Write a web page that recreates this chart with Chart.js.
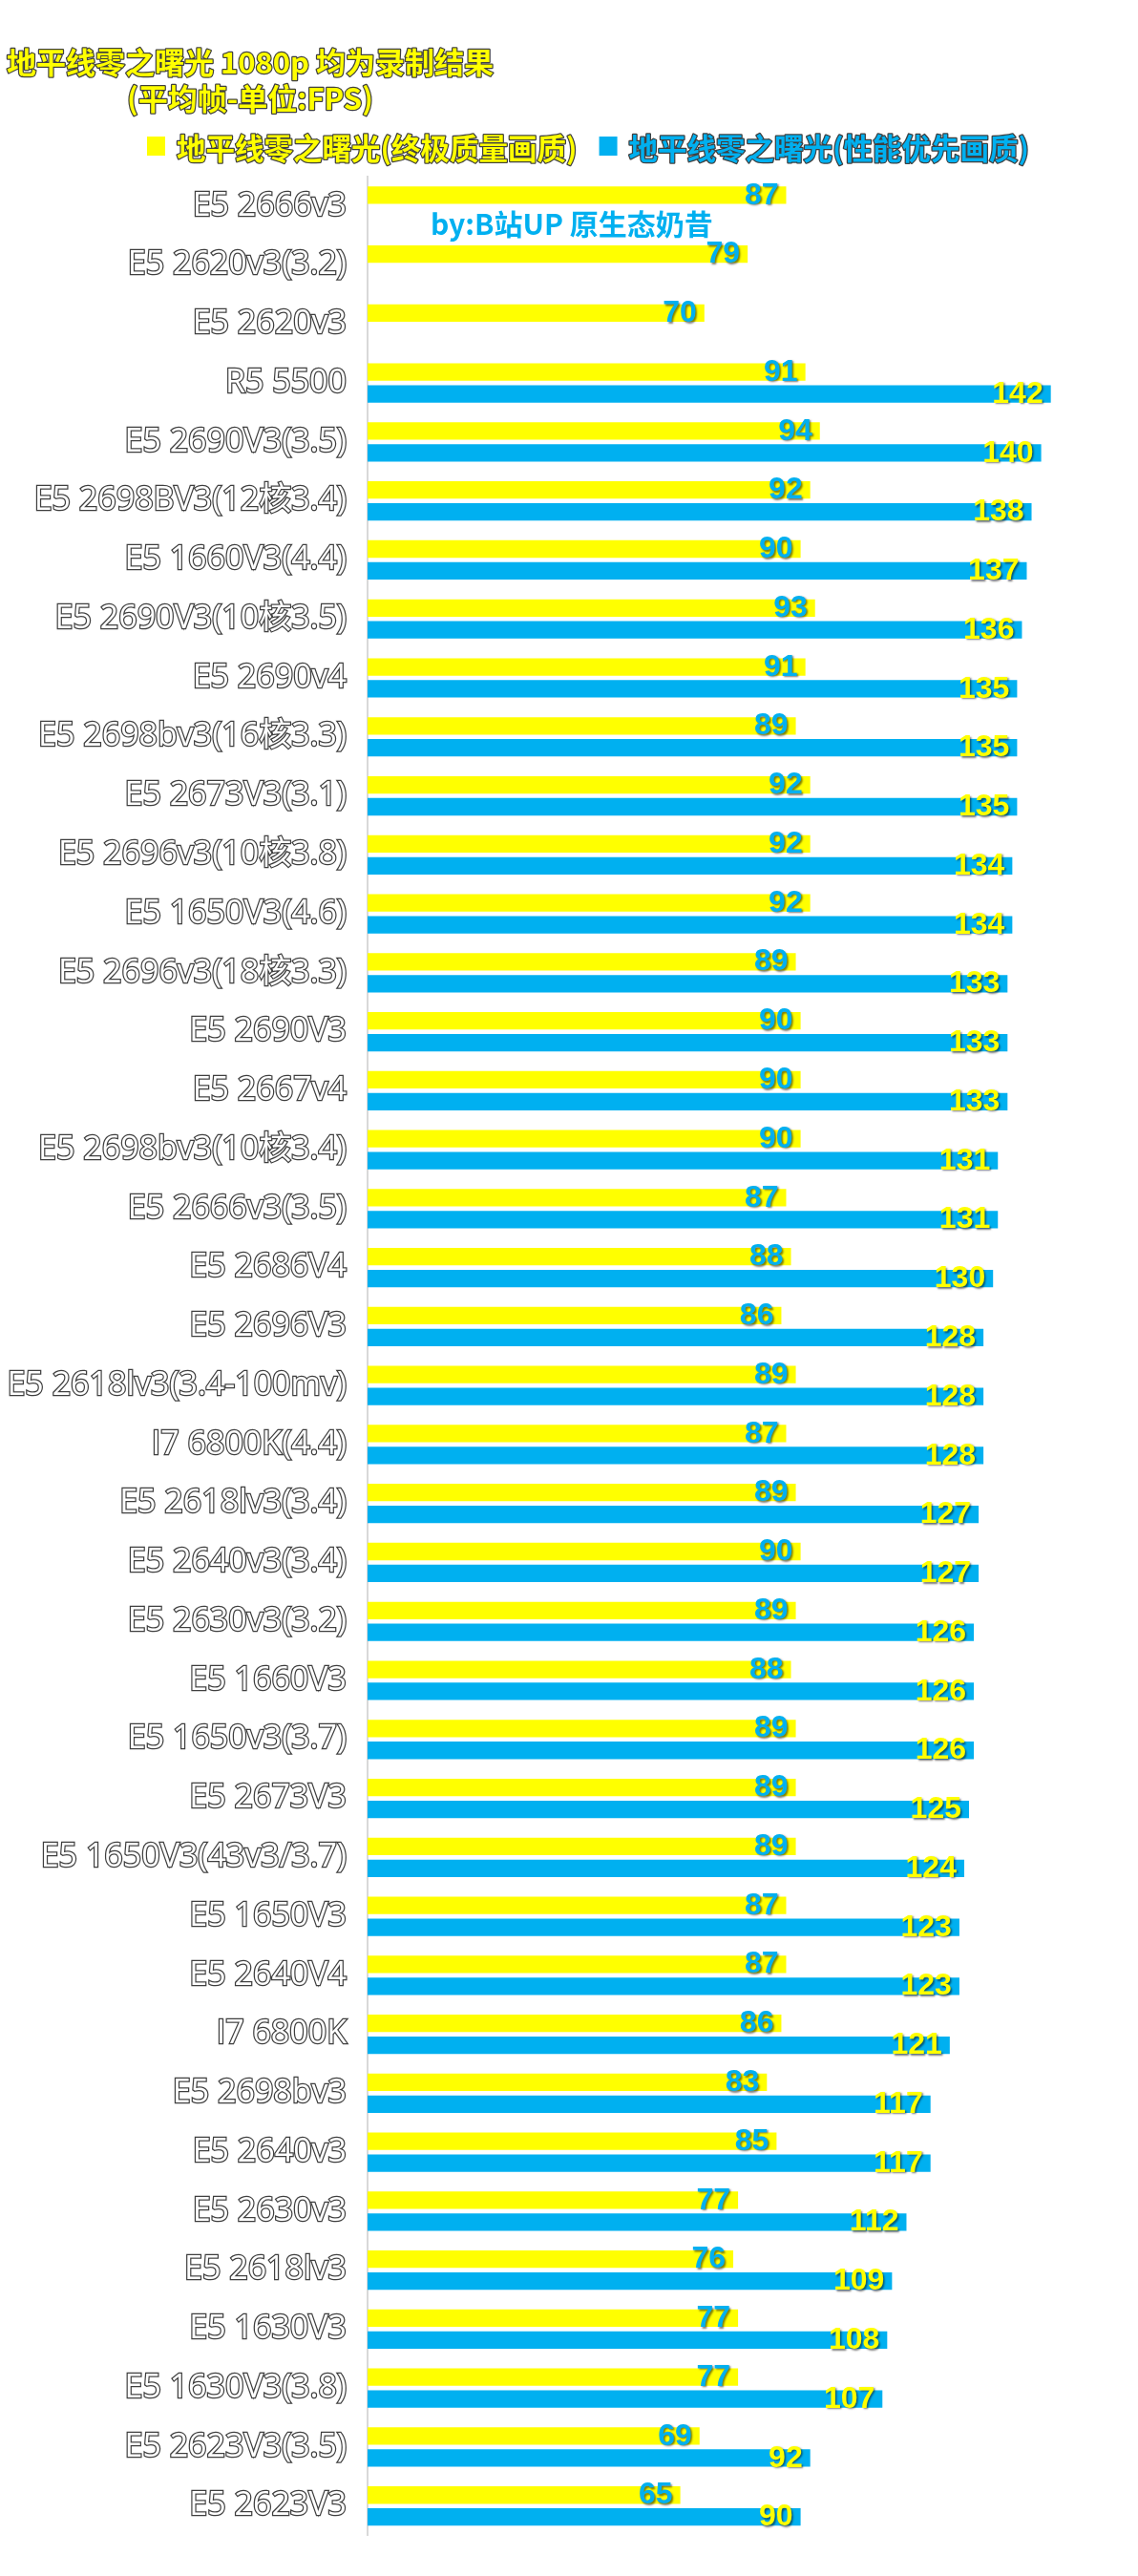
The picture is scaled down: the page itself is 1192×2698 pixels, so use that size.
<!DOCTYPE html>
<html>
<head>
<meta charset="utf-8">
<script src="https://cdn.jsdelivr.net/npm/chart.js@4.4.1/dist/chart.umd.min.js"></script>
<style>
  body { margin: 0; background: #fff; }
  #wrap { width: 1192px; height: 2698px; }
</style>
</head>
<body>
<div id="wrap"><canvas id="fpsChart"></canvas></div>
<script>
const titleLines = ['地平线零之曙光 1080p 均为录制结果', '(平均帧-单位:FPS)'];
const credit = 'by:B站UP 原生态奶昔';
const seriesNames = ['地平线零之曙光(终极质量画质)', '地平线零之曙光(性能优先画质)'];

const cpus = [
  'E5 2666v3', 'E5 2620v3(3.2)', 'E5 2620v3', 'R5 5500', 'E5 2690V3(3.5)',
  'E5 2698BV3(12核3.4)', 'E5 1660V3(4.4)', 'E5 2690V3(10核3.5)', 'E5 2690v4', 'E5 2698bv3(16核3.3)',
  'E5 2673V3(3.1)', 'E5 2696v3(10核3.8)', 'E5 1650V3(4.6)', 'E5 2696v3(18核3.3)', 'E5 2690V3',
  'E5 2667v4', 'E5 2698bv3(10核3.4)', 'E5 2666v3(3.5)', 'E5 2686V4', 'E5 2696V3',
  'E5 2618lv3(3.4-100mv)', 'I7 6800K(4.4)', 'E5 2618lv3(3.4)', 'E5 2640v3(3.4)', 'E5 2630v3(3.2)',
  'E5 1660V3', 'E5 1650v3(3.7)', 'E5 2673V3', 'E5 1650V3(43v3/3.7)', 'E5 1650V3',
  'E5 2640V4', 'I7 6800K', 'E5 2698bv3', 'E5 2640v3', 'E5 2630v3',
  'E5 2618lv3', 'E5 1630V3', 'E5 1630V3(3.8)', 'E5 2623V3(3.5)', 'E5 2623V3'
];

const ultraFps = [
  87, 79, 70, 91, 94, 92, 90, 93, 91, 89,
  92, 92, 92, 89, 90, 90, 90, 87, 88, 86,
  89, 87, 89, 90, 89, 88, 89, 89, 89, 87,
  87, 86, 83, 85, 77, 76, 77, 77, 69, 65
];

const perfFps = [
  null, null, null, 142, 140, 138, 137, 136, 135, 135,
  135, 134, 134, 133, 133, 133, 131, 131, 130, 128,
  128, 128, 127, 127, 126, 126, 126, 125, 124, 123,
  123, 121, 117, 117, 112, 109, 108, 107, 92, 90
];

const xMax = 150;
const yellow = '#ffff00';
const blue = '#00b0f0';
const outline = '#3f3f3f';

function strokeFill(ctx, text, x, y, fill, stroke, w) {
  if (stroke) {
    ctx.lineWidth = w;
    ctx.strokeStyle = stroke;
    ctx.lineJoin = 'round';
    ctx.strokeText(text, x, y);
  }
  ctx.fillStyle = fill;
  ctx.fillText(text, x, y);
}

// title, legend and credit line
const headerPlugin = {
  id: 'header',
  afterDraw(chart) {
    const ctx = chart.ctx;
    ctx.save();
    ctx.textBaseline = 'middle';
    ctx.font = 'bold 31px "Noto Sans CJK SC"';
    ctx.textAlign = 'center';
    strokeFill(ctx, titleLines[0], 262, 65, yellow, outline, 2.5);
    strokeFill(ctx, titleLines[1], 262, 103, yellow, outline, 2.5);

    ctx.font = 'bold 30.5px "Noto Sans CJK SC"';
    ctx.textAlign = 'left';
    let x = 154;
    chart.data.datasets.forEach(ds => {
      ctx.fillStyle = ds.backgroundColor;
      ctx.fillRect(x, 143, 19, 20);
      x += 31;
      strokeFill(ctx, ds.label, x, 155, ds.backgroundColor, outline, 2.5);
      x += ctx.measureText(ds.label).width + 23;
    });

    ctx.font = 'bold 30px "Noto Sans CJK SC"';
    ctx.fillStyle = blue;
    ctx.fillText(credit, 451, 235);
    ctx.restore();
  }
};

// numbers at the end of each bar, sitting on the bar's lower edge
const valueLabels = {
  id: 'valueLabels',
  afterDatasetsDraw(chart) {
    const ctx = chart.ctx;
    ctx.save();
    ctx.font = 'bold 32px "Liberation Sans"';
    ctx.textAlign = 'right';
    ctx.textBaseline = 'alphabetic';
    ctx.shadowColor = 'rgba(0,0,0,0.5)';
    ctx.shadowOffsetX = 1.5;
    ctx.shadowOffsetY = 1.5;
    ctx.shadowBlur = 2;
    chart.data.datasets.forEach((ds, di) => {
      const meta = chart.getDatasetMeta(di);
      const color = chart.data.datasets[1 - di].backgroundColor;
      meta.data.forEach((bar, i) => {
        const v = ds.data[i];
        if (v == null) return;
        ctx.fillStyle = color;
        ctx.fillText(String(v), bar.x - 8, bar.y + bar.height / 2);
      });
    });
    ctx.restore();
  }
};

const ctx = document.getElementById('fpsChart').getContext('2d');
const fpsChart = new Chart(ctx, {
  type: 'bar',
  data: {
    labels: cpus,
    datasets: [{
      label: seriesNames[0],
      data: ultraFps,
      backgroundColor: yellow,
      categoryPercentage: 0.743,
      barPercentage: 0.796
    }, {
      label: seriesNames[1],
      data: perfFps,
      backgroundColor: blue,
      categoryPercentage: 0.743,
      barPercentage: 0.796
    }]
  },
  options: {
    indexAxis: 'y',
    responsive: true,
    maintainAspectRatio: false,
    animation: false,
    devicePixelRatio: 1,
    layout: {
      padding: { top: 185, bottom: 36, left: 0, right: 51 }
    },
    plugins: {
      legend: { display: false },
      title: { display: false },
      tooltip: { enabled: false }
    },
    scales: {
      x: {
        display: false,
        min: 0,
        max: xMax
      },
      y: {
        afterFit(scale) { scale.width = 385; },
        grid: { display: false, drawTicks: false },
        border: { display: true, color: '#d9d9d9', width: 2 },
        ticks: {
          autoSkip: false,
          padding: 22,
          color: '#ffffff',
          textStrokeColor: outline,
          textStrokeWidth: 2.5,
          font: { family: '"Open Sans", "Noto Sans CJK SC", sans-serif', size: 34 }
        }
      }
    }
  },
  plugins: [valueLabels, headerPlugin]
});
</script>
</body>
</html>
